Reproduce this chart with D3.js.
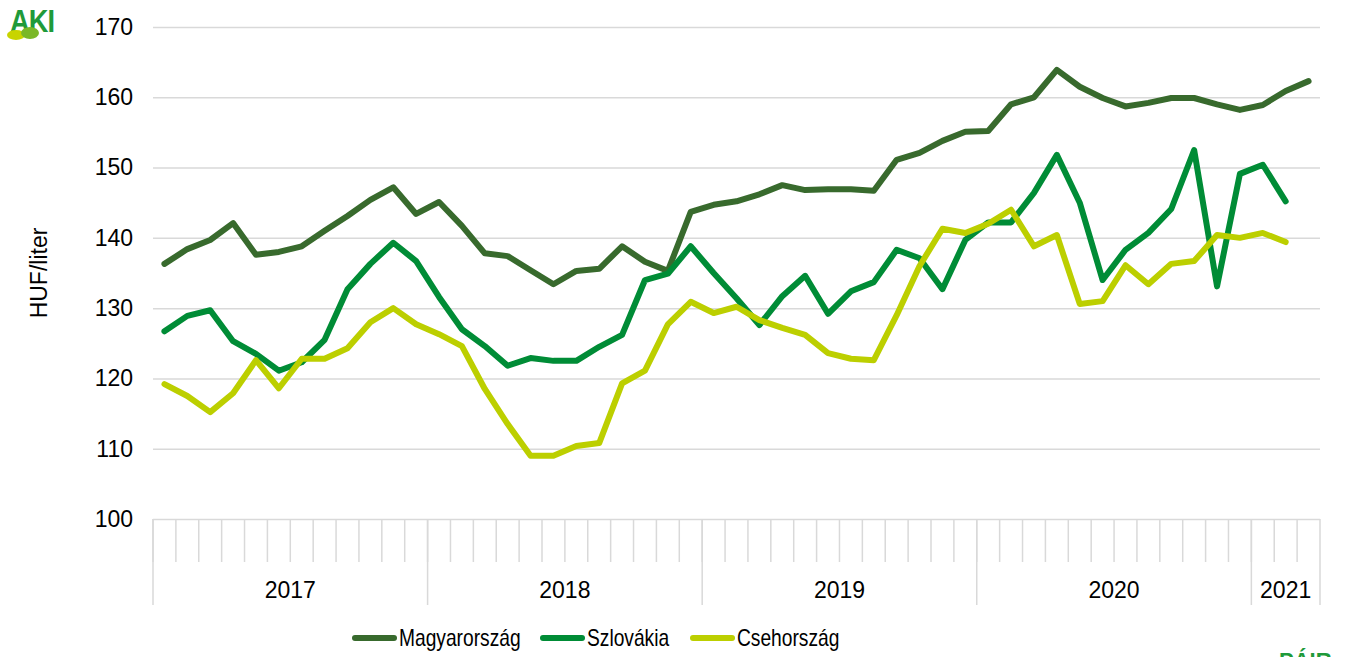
<!DOCTYPE html>
<html>
<head>
<meta charset="utf-8">
<script src="https://cdn.jsdelivr.net/npm/d3@7.9.0/dist/d3.min.js"></script>
<style>
  body { margin: 0; background: #fff; }
  svg { display: block; font-family: "Liberation Sans", Arial, sans-serif; }
</style>
</head>
<body>
<svg id="chart" width="1345" height="657"></svg>
<script>
// year groups on the category axis and how many months each has
const years = ["2017", "2018", "2019", "2020", "2021"];
const monthsInYear = [12, 12, 12, 12, 3];

// HUF/liter, monthly from 2017 Jan
const magyarorszag = [136.3, 138.4, 139.7, 142.1, 137.6, 138.0, 138.8, 141.0, 143.1, 145.4, 147.2, 143.4,
  145.1, 141.7, 137.8, 137.4, 135.4, 133.4, 135.3, 135.6, 138.8, 136.6, 135.3, 143.7,
  144.7, 145.2, 146.2, 147.5, 146.8, 146.9, 146.9, 146.7, 151.1, 152.1, 153.8, 155.1,
  155.2, 159.0, 160.0, 163.9, 161.5, 159.9, 158.7, 159.2, 159.9, 159.9, 159.0, 158.2,
  158.9, 160.9, 162.3];
const szlovakia = [126.7, 128.9, 129.7, 125.3, 123.5, 121.1, 122.3, 125.5, 132.7, 136.3, 139.3, 136.7,
  131.6, 127.0, 124.6, 121.8, 122.9, 122.5, 122.5, 124.5, 126.2, 134.0, 134.9, 138.8,
  135.0, 131.4, 127.6, 131.7, 134.6, 129.2, 132.4, 133.7, 138.3, 137.1, 132.7, 139.7,
  142.2, 142.2, 146.4, 151.8, 145.0, 134.0, 138.3, 140.7, 144.1, 152.5, 133.1, 149.1,
  150.4, 145.2];
const csehorszag = [119.2, 117.5, 115.2, 117.9, 122.6, 118.6, 122.8, 122.8, 124.3, 128.0, 130.0, 127.7,
  126.3, 124.6, 118.5, 113.5, 109.0, 109.0, 110.4, 110.8, 119.3, 121.1, 127.7, 130.9,
  129.3, 130.2, 128.3, 127.2, 126.2, 123.6, 122.8, 122.6, 129.0, 136.0, 141.3, 140.7,
  142.0, 144.0, 138.8, 140.4, 130.6, 131.0, 136.1, 133.4, 136.3, 136.7, 140.4, 140.0,
  140.7, 139.4];

const yTicks = [100, 110, 120, 130, 140, 150, 160, 170];

const series = [
  { name: "Magyarország", values: magyarorszag, color: "#386a2d" },
  { name: "Szlovákia", values: szlovakia, color: "#008c36" },
  { name: "Csehország", values: csehorszag, color: "#bccf00" }
];

// month keys like "2017-1"
const months = years.flatMap((yr, i) => d3.range(monthsInYear[i]).map(m => `${yr}-${m + 1}`));

const svg = d3.select("#chart");
const area = { left: 153, right: 1320, top: 27, bottom: 519 };
const fontSize = 23;

const x = d3.scaleBand().domain(months).range([area.left, area.right]).padding(0);
const y = d3.scaleLinear().domain([100, 170]).range([area.bottom, area.top]);
const cx = i => x(months[i]) + x.bandwidth() / 2;

// gridlines
svg.append("g")
  .attr("transform", `translate(${area.left},0)`)
  .call(d3.axisLeft(y).tickValues(yTicks).tickSize(-(area.right - area.left)).tickFormat(""))
  .call(g => g.select(".domain").remove())
  .call(g => g.selectAll("line").attr("stroke", "#d9d9d9").attr("stroke-width", 1.5));

// y labels
svg.append("g")
  .attr("transform", `translate(${area.left},0)`)
  .call(d3.axisLeft(y).tickValues(yTicks).tickSize(0).tickPadding(20))
  .call(g => g.select(".domain").remove())
  .call(g => g.selectAll("text").attr("font-size", fontSize).attr("fill", "#000")
    .attr("font-family", "Liberation Sans, Arial, sans-serif"));

// y title
svg.append("text")
  .attr("transform", `translate(47,${(area.top + area.bottom) / 2}) rotate(-90)`)
  .attr("text-anchor", "middle")
  .attr("font-size", fontSize)
  .text("HUF/liter");

// month ticks
svg.append("g").selectAll("line")
  .data(months)
  .join("line")
  .attr("x1", d => x(d)).attr("x2", d => x(d))
  .attr("y1", area.bottom).attr("y2", area.bottom + 43)
  .attr("stroke", "#d9d9d9").attr("stroke-width", 1.5);

// year separators + labels
let start = 0;
const yearSpans = years.map((yr, i) => {
  const s = { year: yr, x0: x(months[start]), x1: x(months[start + monthsInYear[i] - 1]) + x.bandwidth() };
  start += monthsInYear[i];
  return s;
});

svg.append("g").selectAll("line")
  .data([yearSpans[0].x0, ...yearSpans.map(d => d.x1)])
  .join("line")
  .attr("x1", d => d).attr("x2", d => d)
  .attr("y1", area.bottom).attr("y2", area.bottom + 86)
  .attr("stroke", "#d9d9d9").attr("stroke-width", 1.5);

svg.append("g").selectAll("text")
  .data(yearSpans)
  .join("text")
  .attr("x", d => (d.x0 + d.x1) / 2)
  .attr("y", 598)
  .attr("text-anchor", "middle")
  .attr("font-size", fontSize)
  .text(d => d.year);

// lines
const line = d3.line().x((d, i) => cx(i)).y(d => y(d));

svg.append("g").selectAll("path")
  .data(series)
  .join("path")
  .attr("d", d => line(d.values))
  .attr("fill", "none")
  .attr("stroke", d => d.color)
  .attr("stroke-width", 6)
  .attr("stroke-linejoin", "round")
  .attr("stroke-linecap", "round");

// legend (text is condensed in the original)
const legendX = [355, 543, 693];
const legend = svg.append("g").selectAll("g")
  .data(series)
  .join("g")
  .attr("transform", (d, i) => `translate(${legendX[i]},638)`);

legend.append("line")
  .attr("x1", 0).attr("x2", 39)
  .attr("stroke", d => d.color)
  .attr("stroke-width", 6)
  .attr("stroke-linecap", "round");

legend.append("text")
  .attr("transform", "translate(44,0) scale(0.8,1)")
  .attr("dy", "0.35em")
  .attr("font-size", fontSize + 1)
  .text(d => d.name);

// AKI logo (approximate)
const logo = svg.append("g").attr("transform", "translate(5,4)");
logo.append("text")
  .attr("transform", "translate(5,28) scale(0.85,1)")
  .attr("font-size", 32).attr("font-weight", "bold")
  .attr("fill", "#1f9a3a")
  .attr("letter-spacing", -1)
  .text("AKI");
logo.append("ellipse").attr("cx", 11).attr("cy", 31).attr("rx", 9).attr("ry", 5).attr("fill", "#c8d400");
logo.append("ellipse").attr("cx", 25).attr("cy", 29).attr("rx", 9).attr("ry", 6).attr("fill", "#7ab828");

// PÁIR logo at the bottom-right, cut off by the page edge as in the original
svg.append("text")
  .attr("x", 1279).attr("y", 668)
  .attr("font-size", 22).attr("font-weight", "bold")
  .attr("fill", "#1f9a3a")
  .text("PÁIR");
</script>
</body>
</html>
